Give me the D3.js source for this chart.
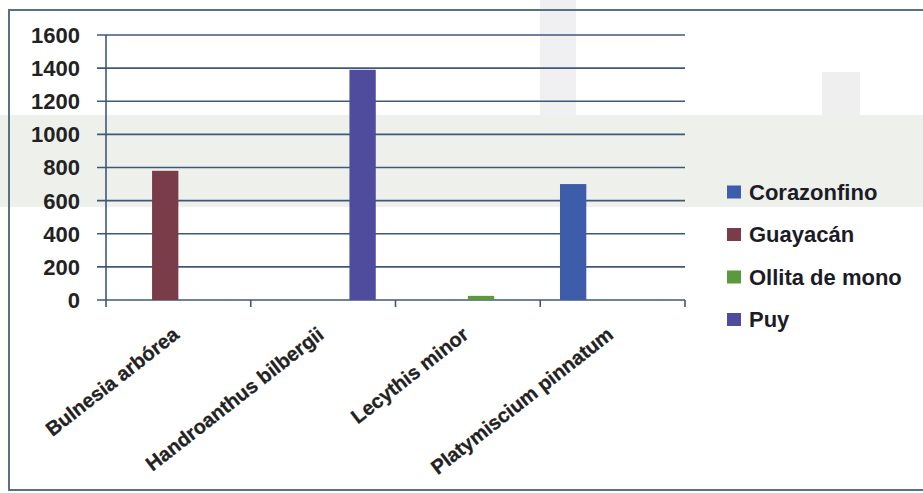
<!DOCTYPE html>
<html>
<head>
<meta charset="utf-8">
<script src="https://cdn.jsdelivr.net/npm/d3@7"></script>
<style>
  body { margin: 0; background: #fff; }
  svg { display: block; font-family: "Liberation Sans", Arial, sans-serif; }
</style>
</head>
<body>
<svg width="923" height="493"></svg>
<script>
// data
var categories = ["Bulnesia arbórea", "Handroanthus bilbergii", "Lecythis minor", "Platymiscium pinnatum"];
var seriesNames = ["Corazonfino", "Guayacán", "Ollita de mono", "Puy"];
var corazonfino = [0, 0, 0, 700];
var guayacan = [780, 0, 0, 0];
var ollita = [0, 0, 25, 0];
var puy = [0, 1390, 0, 0];
var yTicks = [0, 200, 400, 600, 800, 1000, 1200, 1400, 1600];
var colors = ["#3d5dab", "#7b3c4a", "#5b9a3c", "#4f4b9d"];

var seriesValues = [corazonfino, guayacan, ollita, puy];

var svg = d3.select("svg"),
    width = +svg.attr("width"),
    height = +svg.attr("height");

// faint scan background (bleed-through band)
svg.append("rect").attr("x", 0).attr("y", 115).attr("width", width).attr("height", 92)
   .style("fill", "#eef0eb");
svg.append("rect").attr("x", 540).attr("y", 0).attr("width", 36).attr("height", 115)
   .style("fill", "#f0f0f3");
svg.append("rect").attr("x", 822).attr("y", 72).attr("width", 38).attr("height", 43)
   .style("fill", "#efeff0");

// chart frame
svg.append("rect")
   .attr("x", 9).attr("y", 10)
   .attr("width", 940).attr("height", 480)
   .style("fill", "none")
   .style("stroke", "#5b6f84")
   .style("stroke-width", 2);

var y = d3.scaleLinear().domain([0, 1600]).range([300, 35]);
var x0 = d3.scaleBand().domain(categories).range([106, 685]).padding(0);
var x1 = d3.scaleBand().domain(seriesNames).range([0, x0.bandwidth()])
           .paddingInner(0).paddingOuter(0.75);

// gridlines
svg.selectAll(".grid").data(yTicks).enter()
   .append("line")
   .attr("class", "grid")
   .attr("x1", 97).attr("x2", 685)
   .attr("y1", d => y(d)).attr("y2", d => y(d))
   .style("stroke", "#3f5878")
   .style("stroke-width", 1.6);

// y axis line
svg.append("line")
   .attr("x1", 106).attr("x2", 106)
   .attr("y1", y(1600)).attr("y2", y(0))
   .style("stroke", "#3f5878")
   .style("stroke-width", 1.6);

svg.selectAll(".ylab").data(yTicks).enter()
   .append("text")
   .attr("class", "ylab")
   .attr("x", 80)
   .attr("y", d => y(d))
   .attr("dy", "0.36em")
   .style("text-anchor", "end")
   .style("font-size", "22px")
   .style("font-weight", "bold")
   .style("fill", "#222")
   .text(d => d);

// x ticks at band edges
var edges = categories.map(c => x0(c)).concat([x0.range()[1]]);
svg.selectAll(".xtick").data(edges).enter()
   .append("line")
   .attr("x1", d => d).attr("x2", d => d)
   .attr("y1", y(0)).attr("y2", y(0) + 7)
   .style("stroke", "#3f5878")
   .style("stroke-width", 1.6);

// bars
seriesNames.forEach(function(s, si) {
  svg.selectAll(".bar" + si).data(categories).enter()
     .append("rect")
     .attr("x", (c) => x0(c) + x1(s))
     .attr("width", x1.bandwidth())
     .attr("y", (c, i) => y(seriesValues[si][i]))
     .attr("height", (c, i) => y(0) - y(seriesValues[si][i]))
     .style("fill", colors[si]);
});

// category labels, rotated
svg.selectAll(".xlab").data(categories).enter()
   .append("text")
   .attr("transform", c => "translate(" + (x0(c) + x0.bandwidth() / 2 + 2) + "," + 337 + ") rotate(-38)")
   .style("text-anchor", "end")
   .style("font-size", "20px")
   .style("font-weight", "bold")
   .style("fill", "#222")
   .style("stroke", "#222")
   .style("stroke-width", 0.3)
   .text(c => c);

// legend
seriesNames.forEach(function(s, i) {
  var ly = 192 + i * 42.5;
  svg.append("rect")
     .attr("x", 727).attr("y", ly - 6.5)
     .attr("width", 14).attr("height", 13)
     .style("fill", colors[i]);
  svg.append("text")
     .attr("x", 749).attr("y", ly)
     .attr("dy", "0.36em")
     .style("font-size", "22px")
     .style("font-weight", "bold")
     .style("fill", "#1c1c26")
     .text(s);
});
</script>
</body>
</html>
